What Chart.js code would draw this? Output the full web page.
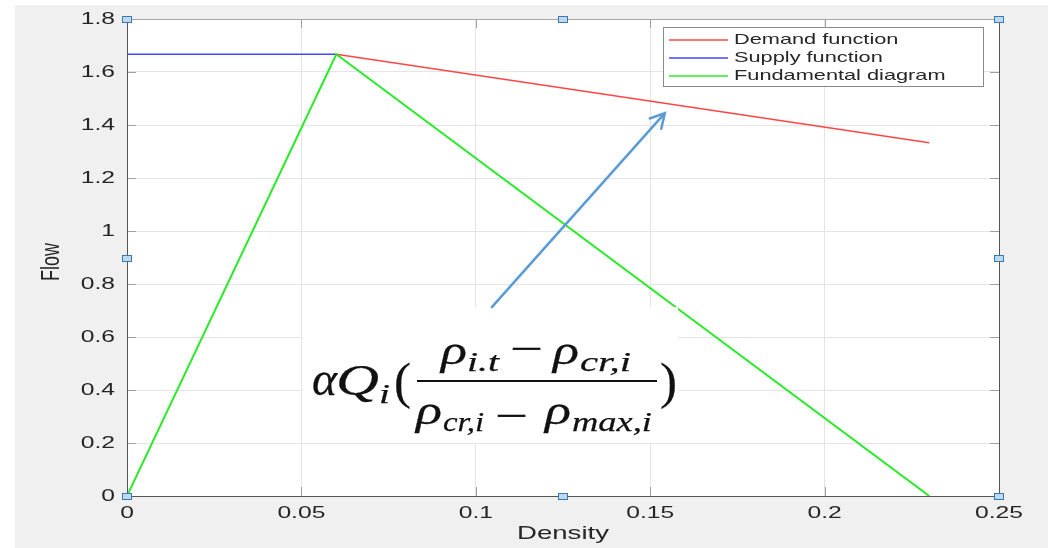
<!DOCTYPE html>
<html lang="en">
<head>
    <meta charset="UTF-8">
    <title>Flow vs Density</title>
    <script src="https://cdn.jsdelivr.net/npm/chart.js"></script>
    <style>
        body { margin: 0; background: white; }
        #chart { display: block; }
    </style>
</head>
<body>
    <canvas id="chart" width="1051" height="548"></canvas>
    <script>
        // data
        const demandDensity = [0.06, 0.23];
        const demandFlow = [1.667, 1.333];
        const supplyDensity = [0, 0.06];
        const supplyFlow = [1.667, 1.667];
        const fdDensity = [0, 0.06, 0.23];
        const fdFlow = [0, 1.667, 0];

        const xTickValues = [0, 0.05, 0.1, 0.15, 0.2, 0.25];
        const xTickLabels = ['0', '0.05', '0.1', '0.15', '0.2', '0.25'];
        const yTickValues = [0, 0.2, 0.4, 0.6, 0.8, 1, 1.2, 1.4, 1.6, 1.8];
        const yTickLabels = ['0', '0.2', '0.4', '0.6', '0.8', '1', '1.2', '1.4', '1.6', '1.8'];

        const SX = 1.45; // the picture is stretched sideways
        const TXT = '#262626';

        function toPoints(xs, ys) {
            return xs.map((x, i) => ({ x: x, y: ys[i] }));
        }

        function stretchText(ctx, text, x, y, font, align) {
            ctx.save();
            ctx.font = font;
            ctx.textAlign = align;
            ctx.textBaseline = 'middle';
            ctx.translate(x, y);
            ctx.scale(SX, 1);
            ctx.fillText(text, 0, 0);
            ctx.restore();
        }

        // draws text so that it fills a given width, left aligned at x, baseline y
        function fitText(ctx, text, x, y, font, width) {
            ctx.save();
            ctx.font = font;
            ctx.textAlign = 'left';
            ctx.textBaseline = 'alphabetic';
            const w = ctx.measureText(text).width;
            ctx.translate(x, y);
            ctx.scale(width / w, 1);
            ctx.fillText(text, 0, 0);
            ctx.lineWidth = 0.25;
            ctx.strokeStyle = ctx.fillStyle;
            ctx.strokeText(text, 0, 0);
            ctx.restore();
        }

        const backgroundPlugin = {
            id: 'background',
            beforeDraw(chart) {
                const ctx = chart.ctx;
                const a = chart.chartArea;
                ctx.save();
                ctx.fillStyle = 'white';
                ctx.fillRect(0, 0, chart.width, chart.height);
                ctx.fillStyle = '#f0f0f0';
                ctx.fillRect(15, 5, 1033, 543);
                ctx.fillStyle = 'white';
                ctx.fillRect(a.left, a.top, a.right - a.left, a.bottom - a.top);
                ctx.restore();
            }
        };

        function drawFormula(ctx) {
            ctx.save();
            ctx.fillStyle = 'white';
            ctx.fillRect(303, 307, 375, 136);
            ctx.fillStyle = '#111';
            const it = (s) => 'italic ' + s + 'px "Liberation Serif"';
            const up = (s) => s + 'px "Liberation Serif"';
            fitText(ctx, 'α', 312, 395, it(48), 25);
            fitText(ctx, 'Q', 336, 395, it(45), 43);
            fitText(ctx, 'i', 379, 403, it(28), 11);
            fitText(ctx, '(', 394, 398, up(50), 17);
            ctx.fillRect(417, 380, 240, 2);
            // numerator
            fitText(ctx, 'ρ', 441, 364, it(42), 26);
            fitText(ctx, 'i.t', 467, 371, it(28), 32);
            fitText(ctx, '−', 510, 362, up(40), 33);
            fitText(ctx, 'ρ', 553, 364, it(42), 26);
            fitText(ctx, 'cr,i', 580, 371, it(28), 51);
            // denominator
            fitText(ctx, 'ρ', 416, 424, it(42), 26);
            fitText(ctx, 'cr,i', 443, 431, it(28), 41);
            fitText(ctx, '−', 495, 429, up(40), 33);
            fitText(ctx, 'ρ', 545, 424, it(42), 26);
            fitText(ctx, 'max,i', 572, 431, it(28), 80);
            fitText(ctx, ')', 660, 398, up(50), 17);
            ctx.restore();
        }

        function drawArrow(ctx, xs, ys) {
            const x0 = xs.getPixelForValue(0.1046), y0 = ys.getPixelForValue(0.713);
            const x1 = xs.getPixelForValue(0.1542), y1 = ys.getPixelForValue(1.445);
            const ang = Math.atan2(y1 - y0, x1 - x0);
            const head = 16;
            ctx.save();
            ctx.strokeStyle = '#5b9bd5';
            ctx.lineWidth = 2.5;
            ctx.lineCap = 'round';
            ctx.beginPath();
            ctx.moveTo(x0, y0);
            ctx.lineTo(x1, y1);
            ctx.moveTo(x1 - head * Math.cos(ang - 0.5), y1 - head * Math.sin(ang - 0.5));
            ctx.lineTo(x1, y1);
            ctx.lineTo(x1 - head * Math.cos(ang + 0.5), y1 - head * Math.sin(ang + 0.5));
            ctx.stroke();
            ctx.restore();
        }

        function drawLegend(chart) {
            const ctx = chart.ctx;
            ctx.save();
            ctx.fillStyle = 'white';
            ctx.fillRect(663, 27, 320, 59);
            ctx.strokeStyle = '#8a8a8a';
            ctx.lineWidth = 1;
            ctx.strokeRect(663.5, 27.5, 320, 59);
            chart.data.datasets.forEach((ds, i) => {
                const y = 40 + i * 18;
                ctx.strokeStyle = ds.borderColor;
                ctx.lineWidth = 1.5;
                ctx.beginPath();
                ctx.moveTo(669, y);
                ctx.lineTo(728, y);
                ctx.stroke();
                ctx.fillStyle = TXT;
                stretchText(ctx, ds.label, 734, y, '15px "Liberation Sans"', 'left');
            });
            ctx.restore();
        }

        const decorPlugin = {
            id: 'decor',
            afterDraw(chart) {
                const ctx = chart.ctx;
                const a = chart.chartArea;
                const xs = chart.scales.x;
                const ys = chart.scales.y;

                drawFormula(ctx);
                drawArrow(ctx, xs, ys);
                drawLegend(chart);

                // axes box and inward ticks
                ctx.save();
                ctx.lineWidth = 1;
                ctx.strokeStyle = '#a0a0a0';
                ctx.beginPath();
                xTickValues.forEach(v => {
                    const x = Math.round(xs.getPixelForValue(v)) + 0.5;
                    ctx.moveTo(x, a.bottom); ctx.lineTo(x, a.bottom - 9);
                    ctx.moveTo(x, a.top); ctx.lineTo(x, a.top + 9);
                });
                yTickValues.forEach(v => {
                    const y = Math.round(ys.getPixelForValue(v)) + 0.5;
                    ctx.moveTo(a.left, y); ctx.lineTo(a.left + 9, y);
                    ctx.moveTo(a.right, y); ctx.lineTo(a.right - 9, y);
                });
                ctx.stroke();
                ctx.strokeStyle = '#a8a8a8';
                ctx.beginPath();
                ctx.moveTo(a.left, a.top + 0.5); ctx.lineTo(a.right, a.top + 0.5);
                ctx.stroke();
                ctx.strokeStyle = '#555';
                ctx.beginPath();
                ctx.moveTo(a.left + 0.5, a.top); ctx.lineTo(a.left + 0.5, a.bottom);
                ctx.moveTo(a.right + 0.5, a.top); ctx.lineTo(a.right + 0.5, a.bottom);
                ctx.moveTo(a.left, a.bottom + 0.5); ctx.lineTo(a.right, a.bottom + 0.5);
                ctx.stroke();

                // tick labels
                ctx.fillStyle = TXT;
                yTickValues.forEach((v, i) => {
                    stretchText(ctx, yTickLabels[i], 115, ys.getPixelForValue(v), '17px "Liberation Sans"', 'right');
                });
                xTickValues.forEach((v, i) => {
                    stretchText(ctx, xTickLabels[i], xs.getPixelForValue(v), a.bottom + 17, '17px "Liberation Sans"', 'center');
                });

                // axis titles
                stretchText(ctx, 'Density', (a.left + a.right) / 2, 534, '19px "Liberation Sans"', 'center');
                ctx.save();
                ctx.translate(52, 262);
                ctx.rotate(-Math.PI / 2);
                ctx.scale(1, SX);
                ctx.font = '18px "Liberation Sans"';
                ctx.textAlign = 'center';
                ctx.textBaseline = 'middle';
                ctx.fillText('Flow', 0, 0);
                ctx.restore();

                // selection handles round the axes
                const mx = (a.left + a.right) / 2, my = (a.top + a.bottom) / 2;
                const handles = [[a.left, a.top], [mx, a.top], [a.right, a.top], [a.left, my],
                                 [a.right, my], [a.left, a.bottom], [mx, a.bottom], [a.right, a.bottom]];
                handles.forEach(([hx, hy]) => {
                    ctx.fillStyle = '#bcd9f0';
                    ctx.fillRect(Math.round(hx) - 5, Math.round(hy) - 3, 10, 7);
                    ctx.strokeStyle = '#3a78b8';
                    ctx.strokeRect(Math.round(hx) - 4.5, Math.round(hy) - 2.5, 9, 6);
                });
                ctx.restore();
            }
        };

        const ctx = document.getElementById('chart').getContext('2d');
        const chart = new Chart(ctx, {
            type: 'scatter',
            data: {
                datasets: [{
                    label: 'Demand function',
                    data: toPoints(demandDensity, demandFlow),
                    borderColor: 'rgb(255,70,70)',
                    borderWidth: 1.6,
                    showLine: true,
                    pointRadius: 0,
                    order: 2
                }, {
                    label: 'Supply function',
                    data: toPoints(supplyDensity, supplyFlow),
                    borderColor: 'rgb(70,70,255)',
                    borderWidth: 1.6,
                    showLine: true,
                    pointRadius: 0,
                    order: 1
                }, {
                    label: 'Fundamental diagram',
                    data: toPoints(fdDensity, fdFlow),
                    borderColor: 'rgb(40,235,40)',
                    borderWidth: 2,
                    showLine: true,
                    pointRadius: 0,
                    order: 0
                }]
            },
            options: {
                responsive: false,
                animation: false,
                devicePixelRatio: 1,
                layout: { padding: { left: 0, top: 19, right: 52, bottom: 0 } },
                plugins: {
                    legend: { display: false },
                    tooltip: { enabled: false }
                },
                scales: {
                    x: {
                        type: 'linear',
                        min: 0,
                        max: 0.25,
                        afterBuildTicks: s => { s.ticks = xTickValues.map(v => ({ value: v })); },
                        afterFit: s => { s.height = 52; },
                        ticks: { display: false },
                        border: { display: false },
                        grid: { color: '#e4e4e4', drawTicks: false }
                    },
                    y: {
                        type: 'linear',
                        min: 0,
                        max: 1.8,
                        afterBuildTicks: s => { s.ticks = yTickValues.map(v => ({ value: v })); },
                        afterFit: s => { s.width = 127; },
                        ticks: { display: false },
                        border: { display: false },
                        grid: { color: '#e4e4e4', drawTicks: false }
                    }
                }
            },
            plugins: [backgroundPlugin, decorPlugin]
        });
    </script>
</body>
</html>
